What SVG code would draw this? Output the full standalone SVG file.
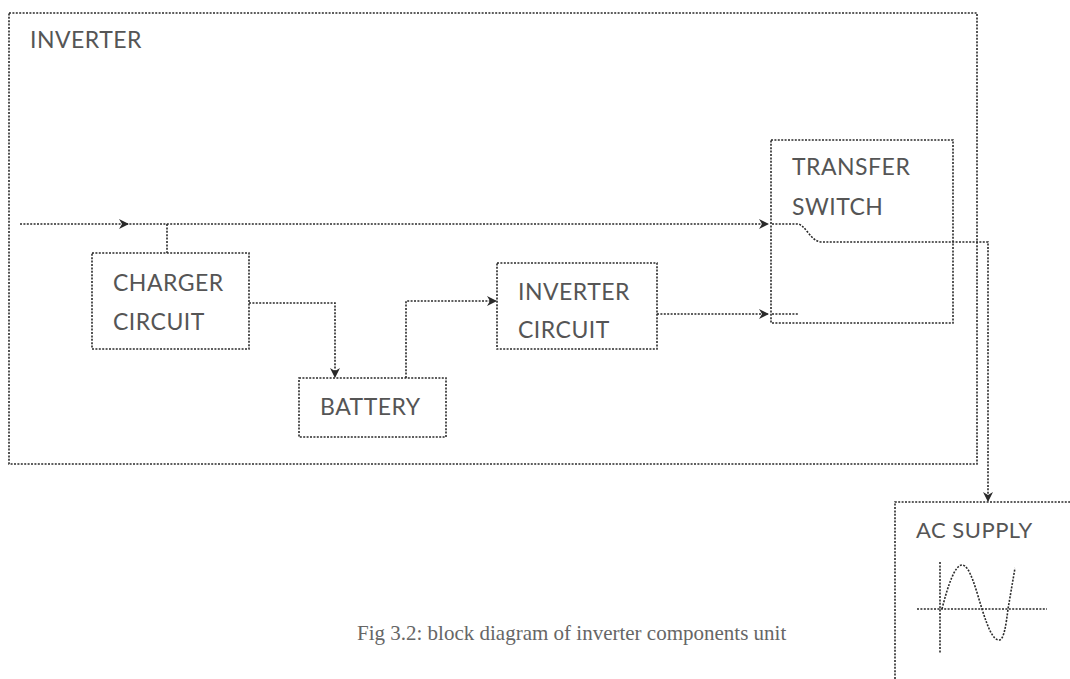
<svg xmlns="http://www.w3.org/2000/svg" width="1070" height="679" viewBox="0 0 1070 679">
<defs>
<style>
.box{fill:none;stroke:#2a2a2a;stroke-width:1.6;stroke-dasharray:2 1.4}
.ln{fill:none;stroke:#2a2a2a;stroke-width:1.6;stroke-dasharray:2 1.4}
.lbl{font-family:Lato,"Liberation Sans",sans-serif;font-size:23px;fill:#555;letter-spacing:0.5px}
.cap{font-family:"Liberation Serif",serif;font-size:21px;fill:#666}
</style>
<marker id="arr" viewBox="0 0 10 10" refX="9" refY="5" markerWidth="10" markerHeight="10" markerUnits="userSpaceOnUse" orient="auto">
<path d="M0,0 L10,5 L0,10 L3,5 Z" fill="#2a2a2a"/>
</marker>
</defs>
<rect width="1070" height="679" fill="#fff"/>
<g id="inverter">
<rect class="box" x="9" y="13" width="968" height="451"/>
<text class="lbl" x="30" y="48">INVERTER</text>
</g>
<g id="charger">
<rect class="box" x="92" y="253" width="157" height="96"/>
<text class="lbl" x="113" y="291">CHARGER</text>
<text class="lbl" x="113" y="330">CIRCUIT</text>
</g>
<g id="battery">
<rect class="box" x="299" y="378" width="147" height="59"/>
<text class="lbl" x="320" y="415">BATTERY</text>
</g>
<g id="inverter-circuit">
<rect class="box" x="497" y="263" width="160" height="86"/>
<text class="lbl" x="518" y="300">INVERTER</text>
<text class="lbl" x="518" y="338">CIRCUIT</text>
</g>
<g id="transfer-switch">
<rect class="box" x="771" y="140" width="182" height="183"/>
<text class="lbl" x="792" y="175">TRANSFER</text>
<text class="lbl" x="792" y="215">SWITCH</text>
</g>
<g id="ac-supply">
<path class="box" d="M895,679 L895,502 L1070,502"/>
<text class="lbl" x="916" y="538" style="font-size:22px">AC SUPPLY</text>
<path class="ln" d="M917,609 L1047,609 M940,562 L940,653"/>
<path class="ln" d="M942,609 C948,585 955,565 962,565 C970,565 976,590 982,609 C988,628 993,640 999,640 C1004,640 1006,625 1008,609 L1015,568"/>
</g>
<g id="connectors">
<path class="ln" d="M20,224 L128,224" marker-end="url(#arr)"/>
<path class="ln" d="M126,224 L768,224" marker-end="url(#arr)"/>
<path class="ln" d="M167,224 L167,253"/>
<path class="ln" d="M249,303 L335,303 L335,377" marker-end="url(#arr)"/>
<path class="ln" d="M406,378 L406,301 L496,301" marker-end="url(#arr)"/>
<path class="ln" d="M657,314 L768,314" marker-end="url(#arr)"/>
<path class="ln" d="M772,314 L798,314"/>
<path class="ln" d="M772,224 L797,224 C806,224 810,242 822,242 L988,242 L988,501" marker-end="url(#arr)"/>
</g>
<text class="cap" x="357" y="640">Fig 3.2: block diagram of inverter components unit</text>
</svg>
